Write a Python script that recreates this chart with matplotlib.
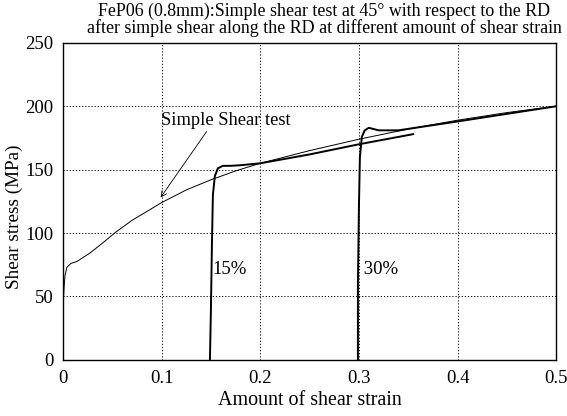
import matplotlib
matplotlib.use("Agg")
import matplotlib.pyplot as plt

# Simple shear test (monotonic)
ss_strain = [0, 0.001, 0.002, 0.004, 0.008, 0.014, 0.027, 0.04, 0.054, 0.07, 0.085, 0.1,
             0.125, 0.15, 0.175, 0.2, 0.25, 0.3, 0.35, 0.4, 0.45, 0.5]
ss_stress = [38, 55, 66, 73, 76, 77.5, 84, 92, 101, 110, 117, 124,
             134, 142, 149, 155, 165, 174, 182, 189, 195, 200]

# reloading after 15% pre-strain
p15_strain = [0.149, 0.150, 0.151, 0.152, 0.154, 0.157, 0.162, 0.17, 0.18, 0.2, 0.25, 0.3, 0.355]
p15_stress = [0, 40, 90, 130, 145, 151, 153, 153, 153.5, 155, 162, 170, 178]

# reloading after 30% pre-strain
p30_strain = [0.299, 0.299, 0.300, 0.301, 0.303, 0.306, 0.31, 0.32, 0.34, 0.4, 0.45, 0.5]
p30_stress = [0, 60, 120, 160, 176, 181, 183, 181, 181, 188, 194, 200]

plt.rcParams["font.family"] = "Liberation Serif"

fig, ax = plt.subplots(figsize=(5.67, 4.16), dpi=100)
fig.subplots_adjust(left=0.111, right=0.981, bottom=0.135, top=0.897)

ax.plot(ss_strain, ss_stress, color="black", lw=0.7)
ax.plot(p15_strain, p15_stress, color="black", lw=1.4)
ax.plot(p30_strain, p30_stress, color="black", lw=1.4)

ax.set_xlim(0, 0.5)
ax.set_ylim(0, 250)
ax.set_xticks([0, 0.1, 0.2, 0.3, 0.4, 0.5])
ax.set_xticklabels(["0", "0.1", "0.2", "0.3", "0.4", "0.5"])
ax.set_yticks([0, 50, 100, 150, 200, 250])
ax.tick_params(labelsize=13.5, length=0, pad=7)
ax.grid(True, color="black", linestyle=(0, (1.2, 2)), lw=0.7)

for s in ax.spines.values():
    s.set_linewidth(1.0)

ax.set_xlabel("Amount of shear strain", fontsize=14.4, labelpad=3)
ax.set_ylabel("Shear stress (MPa)", fontsize=13.8)
ax.yaxis.set_label_coords(-0.08, 0.45)
fig.text(0.572, 0.993,
         "FeP06 (0.8mm):Simple shear test at 45\u00b0 with respect to the RD\n"
         "after simple shear along the RD at different amount of shear strain",
         fontsize=12.9, linespacing=0.95, ha="center", va="top")

ax.annotate("Simple Shear test", xy=(0.099, 128), xytext=(0.099, 189),
            fontsize=13.3, va="center", ha="left",
            arrowprops=dict(arrowstyle="->,head_length=0.3,head_width=0.15",
                            color="black", lw=0.6,
                            shrinkA=0, shrinkB=0, relpos=(0.37, 0)))
ax.text(0.152, 71, "15%", fontsize=13.5, va="center")
ax.text(0.3, 71, " 30%", fontsize=13.5, va="center")

fig.savefig("out.png", dpi=100)
